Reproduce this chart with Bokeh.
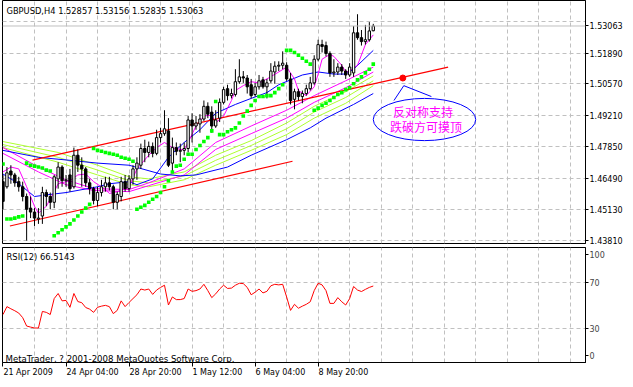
from bokeh.plotting import figure
from bokeh.layouts import column
from bokeh.models import (Range1d, FixedTicker, Label, Span, PrintfTickFormatter,
                          LinearAxis, CustomJSTickFormatter)
from bokeh.core.properties import value
from bokeh.embed import file_html
from bokeh.resources import INLINE

FONT = "DejaVu Sans"

# ---------------- data ----------------
title_text = "GBPUSD,H4  1.52857 1.53156 1.52835 1.53063"
bid_price = 1.53063
price_grid = [1.43810, 1.45130, 1.46490, 1.47850, 1.49210, 1.50570, 1.51890, 1.53250]
price_labels = [1.43810, 1.45130, 1.46490, 1.47850, 1.49210, 1.50570, 1.51890, 1.53063]
time_ticks = [0, 16, 32, 48, 64, 80]
time_labels = ["21 Apr 2009", "24 Apr 04:00", "28 Apr 20:00", "1 May 12:00", "6 May 04:00", "8 May 20:00"]
rsi_ticks = [6, 30, 70, 94]
rsi_tick_labels = ["0", "30", "70", "100"]

bars = list(range(95))
opens = [1.4635, 1.4613, 1.4681, 1.4664, 1.4635, 1.4613, 1.4571, 1.4521, 1.4504, 1.4474,
         1.4487, 1.4588, 1.4571, 1.4546, 1.4647, 1.4698, 1.4639, 1.4664, 1.4613, 1.4749,
         1.4706, 1.4690, 1.4630, 1.4605, 1.4554, 1.4588, 1.4613, 1.4630, 1.4613, 1.4546,
         1.4571, 1.4635, 1.4605, 1.4647, 1.4690, 1.4706, 1.4778, 1.4761, 1.4787, 1.4757,
         1.4825, 1.4842, 1.4854, 1.4715, 1.4782, 1.4766, 1.4770, 1.4778, 1.4901, 1.4875,
         1.4884, 1.4905, 1.4960, 1.4935, 1.4875, 1.4909, 1.4977, 1.5036, 1.5006, 1.5011,
         1.5066, 1.5087, 1.5082, 1.5053, 1.5011, 1.5044, 1.5074, 1.5044, 1.5070, 1.5108,
         1.5133, 1.5137, 1.5137, 1.5078, 1.4990, 1.5023, 1.5002, 1.5015, 1.5036, 1.5061,
         1.5163, 1.5226, 1.5222, 1.5188, 1.5104, 1.5108, 1.5129, 1.5112, 1.5095, 1.5104,
         1.5277, 1.5256, 1.5239, 1.5247, 1.52857]
highs = [1.4664, 1.4698, 1.4706, 1.4673, 1.4656, 1.4635, 1.4584, 1.4571, 1.4521, 1.4521,
         1.4613, 1.4601, 1.4588, 1.4664, 1.4719, 1.4706, 1.4664, 1.4690, 1.4782, 1.4774,
         1.4740, 1.4698, 1.4647, 1.4613, 1.4613, 1.4643, 1.4656, 1.4656, 1.4622, 1.4592,
         1.4656, 1.4664, 1.4664, 1.4706, 1.4740, 1.4799, 1.4816, 1.4808, 1.4804, 1.4859,
         1.4867, 1.4943, 1.4909, 1.4825, 1.4804, 1.4799, 1.4804, 1.4918, 1.4930, 1.4918,
         1.4926, 1.4985, 1.4977, 1.4960, 1.4943, 1.4994, 1.5044, 1.5053, 1.5036, 1.5120,
         1.5163, 1.5112, 1.5095, 1.5078, 1.5061, 1.5095, 1.5087, 1.5078, 1.5146, 1.5154,
         1.5154, 1.5197, 1.5150, 1.5104, 1.5036, 1.5036, 1.5028, 1.5053, 1.5087, 1.5180,
         1.5247, 1.5247, 1.5239, 1.5197, 1.5163, 1.5146, 1.5142, 1.5120, 1.5146, 1.5306,
         1.5357, 1.5289, 1.5311, 1.5323, 1.53156]
lows = [1.4516, 1.4605, 1.4626, 1.4613, 1.4592, 1.4550, 1.4381, 1.4478, 1.4444, 1.4453,
        1.4453, 1.4529, 1.4516, 1.4521, 1.4605, 1.4613, 1.4613, 1.4592, 1.4605, 1.4677,
        1.4613, 1.4613, 1.4580, 1.4537, 1.4529, 1.4571, 1.4592, 1.4597, 1.4516, 1.4516,
        1.4550, 1.4592, 1.4592, 1.4622, 1.4643, 1.4690, 1.4719, 1.4740, 1.4740, 1.4749,
        1.4804, 1.4833, 1.4698, 1.4677, 1.4749, 1.4719, 1.4749, 1.4761, 1.4804, 1.4859,
        1.4846, 1.4897, 1.4909, 1.4846, 1.4867, 1.4892, 1.4968, 1.4985, 1.4994, 1.5002,
        1.5057, 1.5061, 1.5015, 1.4994, 1.5002, 1.5032, 1.5036, 1.4994, 1.5061, 1.5057,
        1.5112, 1.5120, 1.5070, 1.4968, 1.4947, 1.4985, 1.4973, 1.5006, 1.5028, 1.5053,
        1.5154, 1.5192, 1.5175, 1.5087, 1.5087, 1.5095, 1.5095, 1.5078, 1.5087, 1.5087,
        1.5247, 1.5222, 1.5226, 1.5239, 1.52835]
closes = [1.4550, 1.4673, 1.4664, 1.4630, 1.4613, 1.4571, 1.4516, 1.4504, 1.4478, 1.4478,
          1.4588, 1.4571, 1.4546, 1.4656, 1.4698, 1.4639, 1.4643, 1.4605, 1.4749, 1.4706,
          1.4690, 1.4630, 1.4605, 1.4554, 1.4588, 1.4613, 1.4630, 1.4613, 1.4546, 1.4580,
          1.4635, 1.4605, 1.4647, 1.4690, 1.4715, 1.4778, 1.4761, 1.4787, 1.4757, 1.4825,
          1.4842, 1.4863, 1.4706, 1.4782, 1.4766, 1.4770, 1.4778, 1.4901, 1.4875, 1.4888,
          1.4905, 1.4960, 1.4926, 1.4875, 1.4901, 1.4977, 1.5032, 1.5006, 1.5015, 1.5066,
          1.5087, 1.5082, 1.5044, 1.5006, 1.5044, 1.5070, 1.5044, 1.5061, 1.5112, 1.5133,
          1.5137, 1.5146, 1.5078, 1.4985, 1.5023, 1.5002, 1.5015, 1.5036, 1.5061, 1.5163,
          1.5226, 1.5218, 1.5188, 1.5104, 1.5108, 1.5129, 1.5112, 1.5095, 1.5129, 1.5277,
          1.5256, 1.5239, 1.5247, 1.5285, 1.53063]

sar = [1.4711, 1.4474, 1.4474, 1.4478, 1.4483, 1.4487, 1.4715, 1.4706, 1.4702, 1.4698,
       1.4694, 1.4685, 1.4681, 1.4402, 1.4415, 1.4428, 1.4440, 1.4453, 1.4470, 1.4487,
       1.4504, 1.4521, 1.4537, 1.4778, 1.4770, 1.4766, 1.4761, 1.4757, 1.4753, 1.4749,
       1.4740, 1.4736, 1.4732, 1.4723, 1.4516, 1.4525, 1.4533, 1.4546, 1.4559, 1.4571,
       1.4588, 1.4613, 1.4639, 1.4677, 1.4702, 1.4706, 1.4732, 1.4753, 1.4753, 1.4774,
       1.4791, 1.4808, 1.4825, 1.4854, 1.4981, 1.4838, 1.4838, 1.4850, 1.4859, 1.4867,
       1.4888, 1.4918, 1.4939, 1.4964, 1.4985, 1.5002, 1.5002, 1.5006, 1.5006, 1.5019,
       1.5036, 1.5053, 1.5201, 1.5201, 1.5192, 1.5180, 1.5167, 1.5154, 1.5142, 1.4943,
       1.4952, 1.4964, 1.4973, 1.4985, 1.4998, 1.5011, 1.5019, 1.5032, 1.5040, 1.5057,
       1.5074, 1.5087, 1.5104, 1.5120, 1.5142]

# moving averages (vertices)
ma_fast_x = [0, 2, 4, 6, 8, 9, 11, 13, 14, 17, 19, 21, 23, 26, 27, 29, 32, 34, 37, 39,
             41, 43, 45, 46, 47, 49, 51, 53, 54, 56, 58, 59, 61, 63, 65, 67, 70, 72, 74, 75,
             77, 79, 80, 81, 83, 84, 86, 87, 88, 90, 92, 94]
ma_fast_y = [1.4677, 1.4698, 1.4690, 1.4613, 1.4529, 1.4499, 1.4529, 1.4592, 1.4626, 1.4639,
             1.4664, 1.4668, 1.4635, 1.4601, 1.4584, 1.4592, 1.4613, 1.4690, 1.4749, 1.4782,
             1.4804, 1.4782, 1.4774, 1.4774, 1.4804, 1.4875, 1.4918, 1.4922, 1.4888, 1.4918,
             1.4985, 1.5028, 1.5049, 1.5066, 1.5061, 1.5078, 1.5108, 1.5129, 1.5078, 1.5028,
             1.5006, 1.5044, 1.5099, 1.5163, 1.5184, 1.5175, 1.5137, 1.5108, 1.5112, 1.5137,
             1.5226, 1.5268]
ma_blue_x = [0, 4, 8, 12, 16, 24, 27, 32, 34, 38, 42, 46, 50, 54, 59, 63, 67, 70, 76, 80, 84, 87, 89, 94]
ma_blue_y = [1.4668, 1.4626, 1.4571, 1.4580, 1.4588, 1.4613, 1.4626, 1.4635, 1.4622, 1.4647,
             1.4740, 1.4804, 1.4859, 1.4930, 1.4968, 1.4994, 1.5019, 1.5053, 1.5095, 1.5108,
             1.5099, 1.5099, 1.5120, 1.5201]
ma_slowblue_x = [0, 9, 17, 24, 32, 40, 45, 49, 57, 63, 72, 78, 82, 89, 94]
ma_slowblue_y = [1.4770, 1.4740, 1.4727, 1.4715, 1.4706, 1.4668, 1.4660, 1.4664, 1.4698, 1.4749,
                 1.4816, 1.4867, 1.4909, 1.4968, 1.5015]
ma_mag2_x = [0, 9, 16, 23, 32, 37, 46, 54, 63, 72, 79, 87, 94]
ma_mag2_y = [1.4782, 1.4698, 1.4643, 1.4605, 1.4601, 1.4630, 1.4690, 1.4804, 1.4875, 1.4943,
             1.5006, 1.5070, 1.5129]
ma_mag3_y = [1.4757, 1.4677, 1.4622, 1.4597, 1.4592, 1.4618, 1.4664, 1.4774, 1.4842, 1.4909,
             1.4977, 1.5040, 1.5108]
ma_lime_x = [0, 14, 24, 32, 37, 46, 54, 63, 72, 79, 87, 94]
ma_lime1_y = [1.4808, 1.4761, 1.4706, 1.4656, 1.4647, 1.4677, 1.4749, 1.4812, 1.4888, 1.4960,
              1.5023, 1.5091]
ma_lime2_y = [1.4795, 1.4740, 1.4685, 1.4639, 1.4630, 1.4660, 1.4727, 1.4791, 1.4863, 1.4935,
              1.4998, 1.5070]
ma_lime3_y = [1.4782, 1.4719, 1.4664, 1.4622, 1.4613, 1.4643, 1.4706, 1.4770, 1.4838, 1.4909,
              1.4973, 1.5049]

# trend lines and annotation
upper_line_x = [7.5, 113.0]
upper_line_y = [1.4728, 1.5129]
lower_line_x = [1.75, 73.5]
lower_line_y = [1.4444, 1.4723]
marker_x = [101.5]
marker_y = [1.5082]
callout_x = [99.25, 101.75, 108.75]
callout_y = [1.4985, 1.5049, 1.5002]
ellipse_x = [107.0]
ellipse_y = [1.4903]
ellipse_w = [26.0]
ellipse_h = [0.0182]
note_x = [106.6, 107.4]
note_y = [1.4939, 1.4871]
note_text = ["反对称支持", "跌破方可摸顶"]

rsi = [41.7, 48.6, 46.7, 45.0, 43.0, 39.0, 31.7, 30.8, 30.0, 30.0,
       44.4, 43.6, 41.7, 55.6, 60.0, 53.6, 54.0, 48.0, 60.0, 53.0,
       52.0, 47.8, 46.4, 43.6, 48.0, 49.0, 49.7, 48.6, 42.5, 45.3,
       53.6, 48.6, 52.2, 55.6, 58.9, 63.9, 63.0, 63.9, 59.2, 63.0,
       65.3, 67.2, 50.0, 57.0, 54.7, 54.7, 55.6, 63.9, 61.9, 62.5,
       63.9, 68.0, 62.5, 56.4, 59.7, 63.9, 67.2, 64.4, 64.7, 67.2,
       68.9, 68.6, 65.3, 58.9, 61.1, 63.9, 60.5, 61.9, 66.7, 68.0,
       67.5, 68.0, 57.0, 45.3, 50.6, 47.2, 49.0, 50.6, 52.8, 62.5,
       68.9, 67.5, 62.5, 51.4, 51.4, 56.4, 52.8, 50.0, 55.6, 66.1,
       63.0, 61.7, 63.6, 65.3, 66.5]

# ---------------- layout constants ----------------
GRID = "#c0c0c0"
FIG_W = 625
RIGHT_W = 38
LEFT_W = 2
X_RANGE = (-0.125, 147.875)
px_per_bar = (FIG_W - RIGHT_W - LEFT_W) / (X_RANGE[1] - X_RANGE[0])
AXIS_PX = 8

# ---------------- main price panel ----------------
p = figure(width=FIG_W, height=246, output_backend="svg", toolbar_location=None,
           x_range=Range1d(*X_RANGE), y_range=Range1d(1.43684, 1.54162),
           y_axis_location="right", x_axis_location=None,
           min_border_left=LEFT_W, min_border_right=RIGHT_W, min_border_top=0, min_border_bottom=3,
           background_fill_color="white", border_fill_color="white")
p.outline_line_color = "black"
p.xgrid.ticker = FixedTicker(ticks=list(range(8, 148, 8)))
p.ygrid.ticker = FixedTicker(ticks=price_grid)
p.yaxis.ticker = FixedTicker(ticks=price_labels)
p.yaxis.formatter = PrintfTickFormatter(format="%.5f")
for g in (p.xgrid, p.ygrid):
    g.grid_line_color = GRID
    g.grid_line_dash = "4 3"
ax = p.yaxis[0]
ax.major_tick_out = 3
ax.major_tick_in = 0
ax.minor_tick_out = 0
ax.minor_tick_in = 0
ax.major_label_standoff = 1
ax.major_label_text_font = FONT
ax.major_label_text_font_size = f"{AXIS_PX}px"
ax.major_label_text_color = "black"
ax.axis_line_color = "black"

p.add_layout(Span(location=bid_price, dimension="width", line_color=GRID, line_width=1))

# indicators
p.line(ma_lime_x, ma_lime1_y, line_color="#adff2f", line_width=1)
p.line(ma_lime_x, ma_lime2_y, line_color="#adff2f", line_width=1)
p.line(ma_lime_x, ma_lime3_y, line_color="#adff2f", line_width=1)
p.line(ma_mag2_x, ma_mag2_y, line_color="#ff00ff", line_width=1)
p.line(ma_mag2_x, ma_mag3_y, line_color="#ff00ff", line_width=1)
p.line(ma_slowblue_x, ma_slowblue_y, line_color="#0000ff", line_width=1)
p.line(ma_blue_x, ma_blue_y, line_color="#0000ff", line_width=1)
p.line(ma_fast_x, ma_fast_y, line_color="#ff00ff", line_width=1)

# trend lines
p.line(upper_line_x, upper_line_y, line_color="#ff0000", line_width=1.2)
p.line(lower_line_x, lower_line_y, line_color="#ff0000", line_width=1.2)
p.scatter(marker_x, marker_y, size=6, color="#ff0000")

# candles
body_top = [max(o, c) for o, c in zip(opens, closes)]
body_bot = [min(o, c) for o, c in zip(opens, closes)]
body_fill = ["white" if c >= o else "black" for o, c in zip(opens, closes)]
p.segment(bars, highs, bars, lows, line_color="black", line_width=1)
p.vbar(x=bars, width=0.6, top=body_top, bottom=body_bot, fill_color=body_fill,
       line_color="black", line_width=1)

# parabolic SAR
p.scatter(bars, sar, marker="square", size=3.6, fill_color="#00ff00", line_color=None)

# callout
p.line(callout_x, callout_y, line_color="#0000ff", line_width=1)
p.ellipse(x=ellipse_x, y=ellipse_y, width=ellipse_w, height=ellipse_h,
          fill_color=None, line_color="#0000ff", line_width=1)
p.text(x=note_x, y=note_y, text=note_text, text_font=value("Noto Sans CJK SC"),
       text_font_size="12px", text_color="#ff00ff", text_align="center", text_baseline="middle")

p.add_layout(Label(x=4, y=238, x_units="screen", y_units="screen", text=title_text,
                   text_font=FONT, text_font_size="8.3px", text_color="black", text_baseline="top"))

# ---------------- RSI panel ----------------
p2 = figure(width=FIG_W, height=133, output_backend="svg", toolbar_location=None,
            x_range=p.x_range, y_range=Range1d(0, 100), y_axis_location="right",
            min_border_left=LEFT_W, min_border_right=RIGHT_W, min_border_top=1, min_border_bottom=17,
            background_fill_color="white", border_fill_color="white")
p2.outline_line_color = "black"
p2.xgrid.ticker = FixedTicker(ticks=list(range(8, 148, 8)))
p2.ygrid.ticker = FixedTicker(ticks=[30, 70])
for g in (p2.xgrid, p2.ygrid):
    g.grid_line_color = GRID
    g.grid_line_dash = "4 3"
ya = p2.yaxis[0]
ya.ticker = FixedTicker(ticks=rsi_ticks)
ya.major_label_overrides = dict(zip(rsi_ticks, rsi_tick_labels))
ya.major_tick_out = 3
ya.major_tick_in = 0
ya.minor_tick_out = 0
ya.minor_tick_in = 0
ya.major_label_standoff = 1
ya.major_label_text_font = FONT
ya.major_label_text_font_size = f"{AXIS_PX}px"
ya.axis_line_color = "black"

# tick marks of the time axis (no labels)
xa = p2.xaxis[0]
xa.ticker = FixedTicker(ticks=time_ticks)
xa.formatter = CustomJSTickFormatter(code="return '';")
xa.major_tick_out = 4
xa.major_tick_in = 0
xa.minor_tick_out = 0
xa.minor_tick_in = 0
xa.major_label_standoff = 0
xa.major_label_text_font_size = "1px"
xa.axis_line_color = "black"

# time labels, left-aligned on their ticks (MetaTrader style)
char_w = {" ": 0.318, ":": 0.337, "A": 0.684, "M": 0.863, "p": 0.635, "r": 0.411,
          "a": 0.613, "y": 0.592}
label_centers = []
for t, lab in zip(time_ticks, time_labels):
    w_px = sum(char_w.get(ch, 0.636) for ch in lab) * AXIS_PX
    label_centers.append(t + (w_px / 2 + 0.5) / px_per_bar)
xb = LinearAxis(ticker=FixedTicker(ticks=label_centers),
                formatter=CustomJSTickFormatter(args=dict(labels=time_labels), code="return labels[index];"))
xb.major_tick_out = 0
xb.major_tick_in = 0
xb.minor_tick_out = 0
xb.minor_tick_in = 0
xb.major_label_standoff = 1
xb.major_label_text_font = FONT
xb.major_label_text_font_size = f"{AXIS_PX}px"
xb.major_label_text_color = "black"
xb.axis_line_color = None
p2.add_layout(xb, "below")

p2.line(bars, rsi, line_color="#ff0000", line_width=1)
p2.add_layout(Label(x=4, y=111, x_units="screen", y_units="screen", text="RSI(12) 66.5143",
                    text_font=FONT, text_font_size="8.4px", text_color="black", text_baseline="top"))
p2.add_layout(Label(x=3, y=4, x_units="screen", y_units="screen",
                    text="MetaTrader, ? 2001-2008 MetaQuotes Software Corp.",
                    text_font=FONT, text_font_size="8.6px", text_color="black", text_baseline="alphabetic"))

layout = column(p, p2, spacing=0)
open("out.html", "w").write(file_html(layout, INLINE))
